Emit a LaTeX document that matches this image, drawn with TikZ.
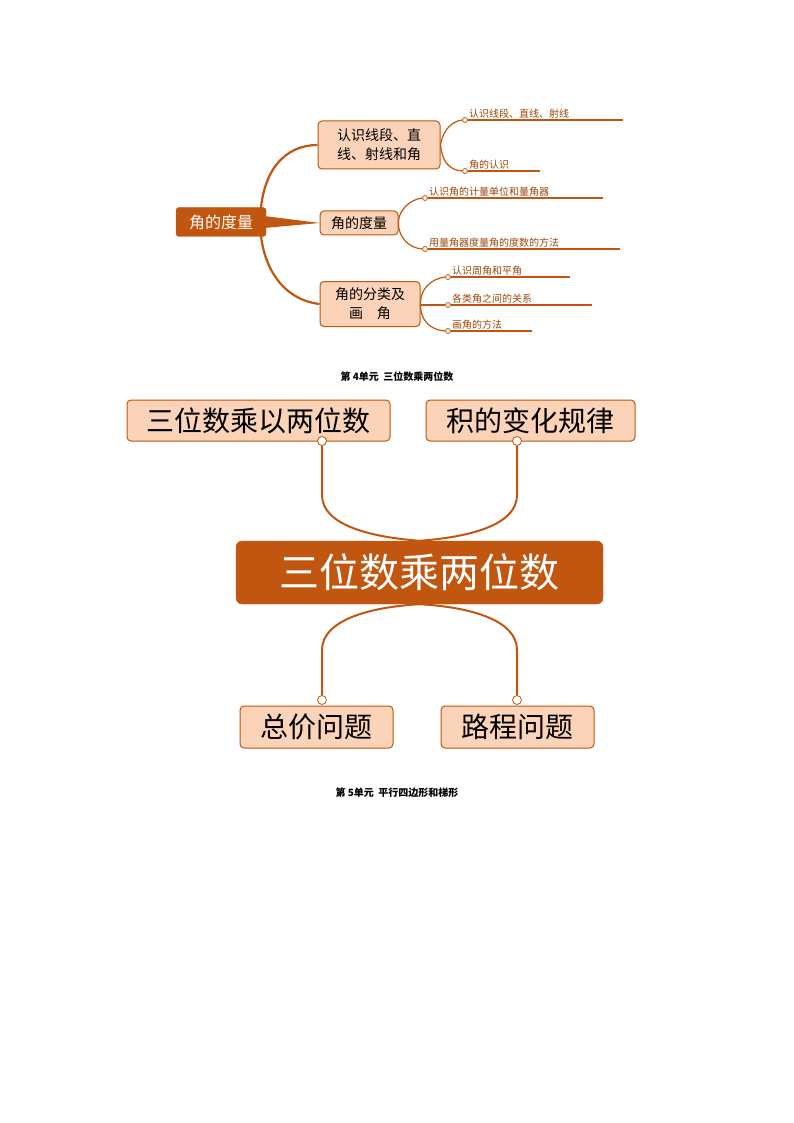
\documentclass[tikz,border=0pt]{standalone}
\usepackage{fontspec}
\newfontfamily\cjk{Noto Sans CJK SC}
\usetikzlibrary{positioning}
\definecolor{rust}{HTML}{C0560F}
\definecolor{peach}{HTML}{FAD3B8}

\begin{document}
\begin{tikzpicture}[x=1pt, y=-1pt,
    font=\cjk,
    rootbox/.style={rectangle, rounded corners=3pt, fill=rust, draw=rust, text=white, align=center, inner sep=0pt},
    topicbox/.style={rectangle, rounded corners=4pt, fill=peach, draw=rust, line width=1pt, align=center, inner sep=0pt},
    leaf/.style={anchor=south west, inner sep=1pt, text=rust!80!black, font=\cjk\fontsize{10}{12}\selectfont},
    branch/.style={draw=rust, line width=2.2pt},
    twig/.style={draw=rust, line width=1.2pt},
    dot/.style={circle, draw=rust, fill=white, line width=0.8pt, inner sep=0pt, minimum size=5pt},
    caption/.style={font=\cjk\bfseries\fontsize{10}{12}\selectfont}
]
    \useasboundingbox (0,0) rectangle (794,1123);

    % angle measure map
    \node[rootbox, minimum width=90pt, minimum height=29pt, font=\cjk\fontsize{16}{18}\selectfont] (angroot) at (221,222) {角的度量};
    \node[topicbox, minimum width=122pt, minimum height=48pt, font=\cjk\fontsize{14}{19}\selectfont] (lines) at (379,145) {认识线段、直\\线、射线和角};
    \node[topicbox, minimum width=78pt, minimum height=24pt, font=\cjk\fontsize{14}{16}\selectfont] (measure) at (359,223) {角的度量};
    \node[topicbox, minimum width=100pt, minimum height=45pt, font=\cjk\fontsize{14}{19}\selectfont] (classify) at (370,304) {角的分类及\\画\quad 角};

    \draw[branch] (angroot.east) ++(-6,-4) .. controls (262,170) and (285,145) .. (lines.west);
    \draw[branch] (angroot.east) ++(-6,4) .. controls (262,270) and (285,300) .. (classify.west);
    \fill[rust] (264,216) -- (measure.west) -- (264,228) -- cycle;

    \foreach \name/\y/\xe/\txt in {l1/120/623/认识线段、直线、射线, l2/171/540/角的认识} {
        \node[dot] (\name) at (465,\y) {};
        \draw[twig] (\name.east) -- (\xe,\y);
        \node[leaf] at (468,\y) {\txt};
    }
    \foreach \name/\y/\xe/\txt in {m1/198/603/认识角的计量单位和量角器, m2/249/620/用量角器度量角的度数的方法} {
        \node[dot] (\name) at (425,\y) {};
        \draw[twig] (\name.east) -- (\xe,\y);
        \node[leaf] at (428,\y) {\txt};
    }
    \foreach \name/\y/\xe/\txt in {c1/277/570/认识周角和平角, c2/305/592/各类角之间的关系, c3/331/532/画角的方法} {
        \node[dot] (\name) at (448,\y) {};
        \draw[twig] (\name.east) -- (\xe,\y);
        \node[leaf] at (451,\y) {\txt};
    }
    \draw[twig] (l1.west) .. controls (448,122) and (442,135) .. (lines.east) .. controls (442,160) and (448,170) .. (l2.west);
    \draw[twig] (m1.west) .. controls (408,200) and (398,212) .. (measure.east) .. controls (398,236) and (408,248) .. (m2.west);
    \draw[twig] (c1.west) .. controls (430,279) and (420,290) .. (classify.east) .. controls (420,320) and (430,330) .. (c3.west);
    \draw[twig] (classify.east) ++(0,1) -- (c2.west);

    \node[caption] (unit4) at (397,377) {第 4单元\ \ 三位数乘两位数};

    % multiplication map
    \node[topicbox, minimum width=263pt, minimum height=41pt, font=\cjk\fontsize{28}{30}\selectfont] (mulbig) at (258.5,420.5) {三位数乘以两位数};
    \node[topicbox, minimum width=209pt, minimum height=41pt, font=\cjk\fontsize{28}{30}\selectfont] (rule) at (530.5,420.5) {积的变化规律};
    \node[rootbox, minimum width=367pt, minimum height=63pt, rounded corners=6pt, font=\cjk\fontsize{40}{44}\selectfont] (center) at (419.5,572.5) {三位数乘两位数};
    \node[topicbox, minimum width=153pt, minimum height=42pt, font=\cjk\fontsize{28}{30}\selectfont] (price) at (316.5,727) {总价问题};
    \node[topicbox, minimum width=153pt, minimum height=42pt, font=\cjk\fontsize{28}{30}\selectfont] (route) at (517.5,727) {路程问题};

    \node[dot, minimum size=9pt] (d1) at (322,441) {};
    \node[dot, minimum size=9pt] (d2) at (517,441) {};
    \node[dot, minimum size=9pt] (d3) at (322,700) {};
    \node[dot, minimum size=9pt] (d4) at (517,700) {};
    \draw[twig, line width=2pt] (d1.south) -- (322,495) .. controls (322,525) and (370,537) .. (center.north) .. controls (470,537) and (517,525) .. (517,495) -- (d2.south);
    \draw[twig, line width=2pt] (d3.north) -- (322,650) .. controls (322,620) and (370,607) .. (center.south) .. controls (470,607) and (517,620) .. (517,650) -- (d4.north);

    \node[caption] (unit5) at (397,793) {第 5单元\ \ 平行四边形和梯形};
\end{tikzpicture}
\end{document}
